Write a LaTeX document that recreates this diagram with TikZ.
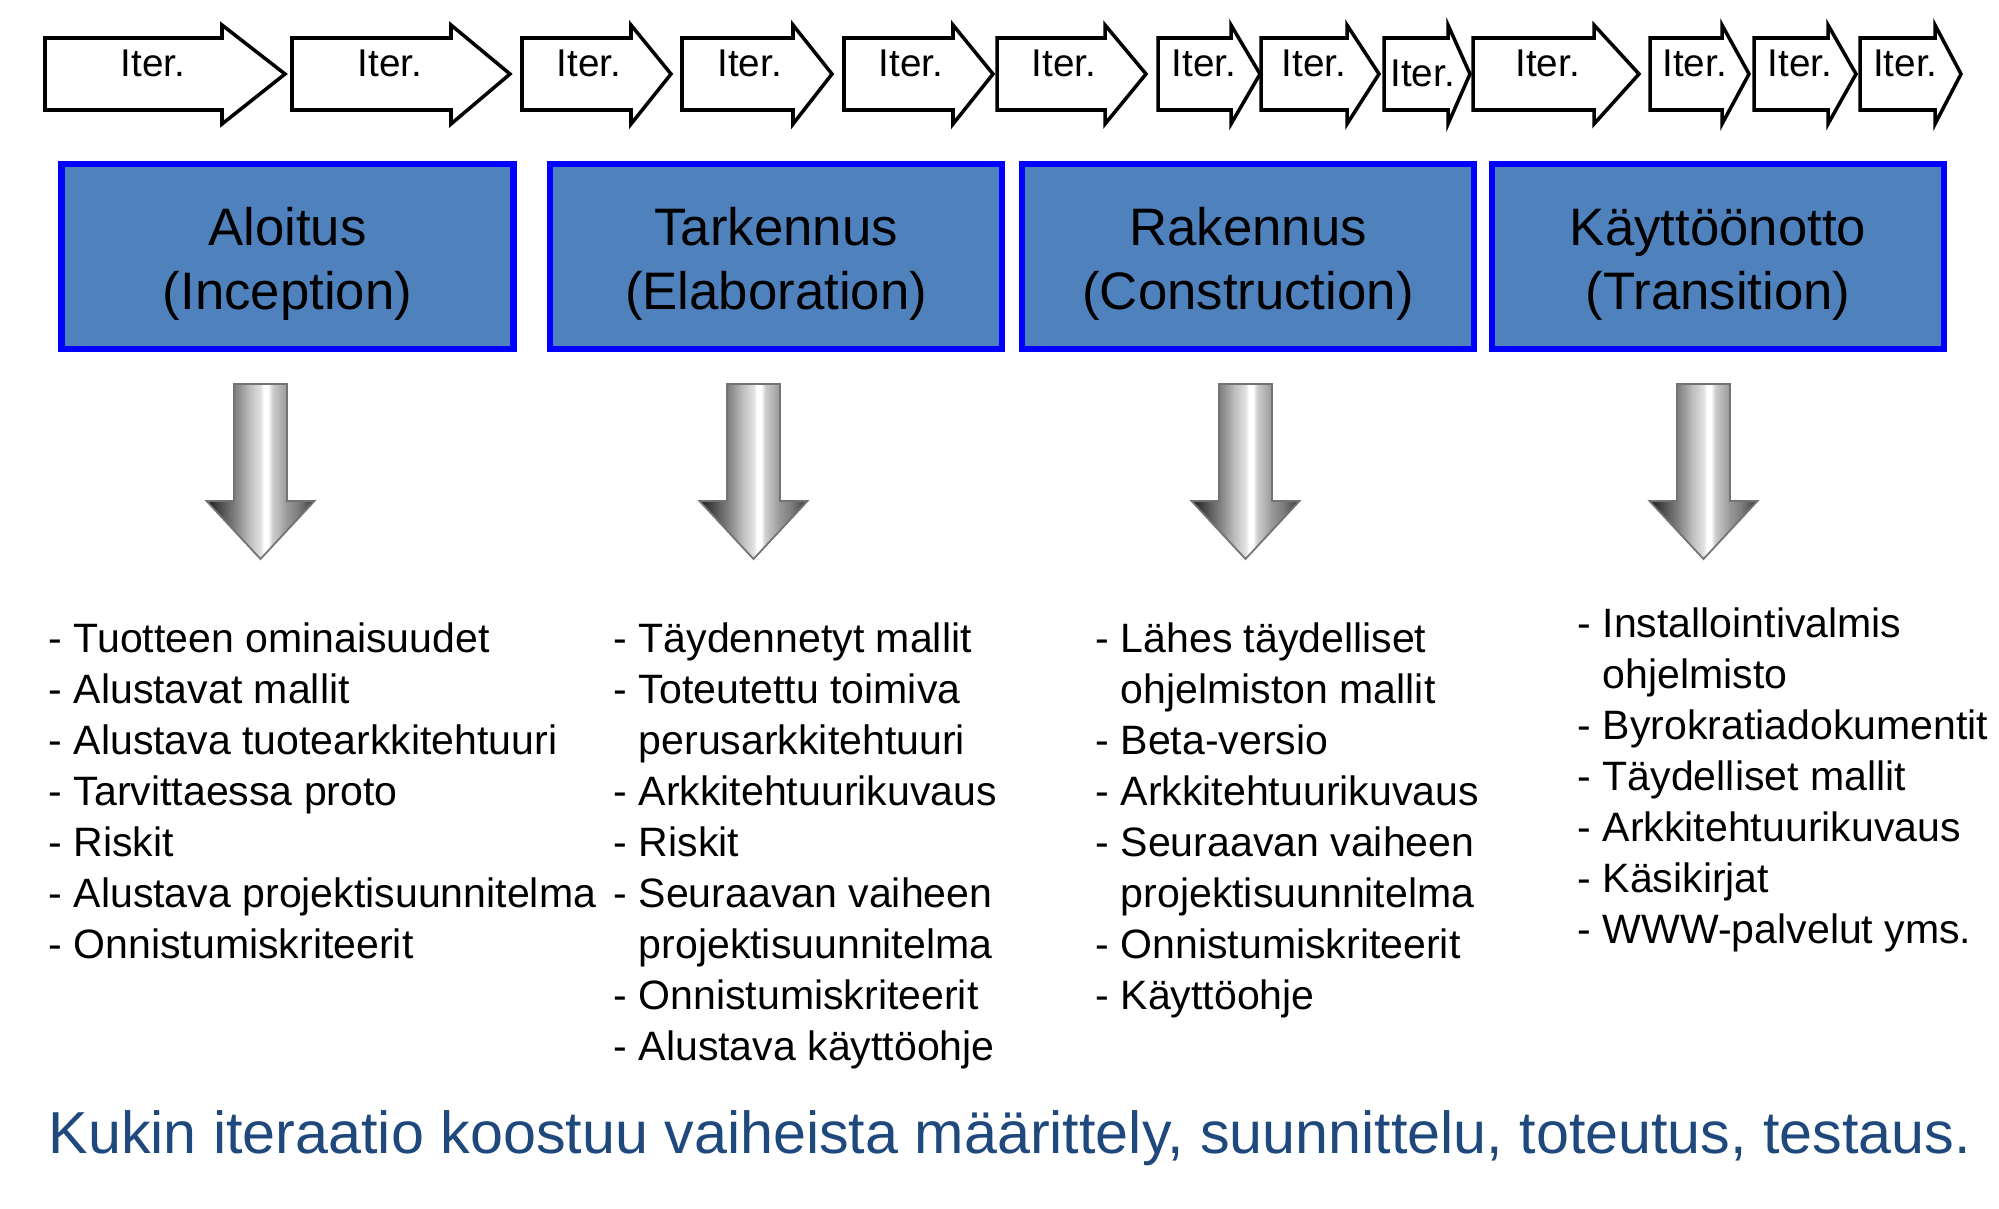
\documentclass[tikz,border=0pt]{standalone}
\usepackage{fontspec}
\setmainfont{Liberation Sans}
\usepackage{tikz}
\usetikzlibrary{arrows}

\definecolor{phasefill}{RGB}{79,129,189}
\definecolor{phaseline}{RGB}{0,0,255}
\definecolor{notecolor}{RGB}{31,73,125}

\pgfdeclarehorizontalshading{metal}{100bp}{color(0bp)=(black!90); color(25bp)=(black!90);
  color(28bp)=(black!80); color(33bp)=(black!65); color(38bp)=(black!50); color(41bp)=(black!40);
  color(45bp)=(black!25); color(50bp)=(black!12); color(51.5bp)=(white); color(53.5bp)=(white);
  color(55.5bp)=(black!20); color(59bp)=(black!30); color(62bp)=(black!40); color(67bp)=(black!50);
  color(71.5bp)=(black!65); color(75bp)=(black!75); color(100bp)=(black!75)}

% iteration arrow: name, left, head, tip, baseline
\newcommand{\iterarrow}[5]{%
\draw[iterline] (#2,38) -- (#3,38) -- (#3,25) -- (#4,74) -- (#3,124) -- (#3,110) -- (#2,110) -- cycle;
\node[itertext] (#1) at ({#2+0.45*(#4-#2)},#5) {Iter.};}

% grey arrow under a phase
\newcommand{\metalarrow}[1]{%
\shadedraw[metalline] (#1-26.5,384) -- (#1+26.5,384) -- (#1+26.5,501) -- (#1+54,501) -- (#1,559)
  -- (#1-54,501) -- (#1-26.5,501) -- cycle;}

% pushes the phase names a little down
\newcommand{\phasestrut}{\rule{0pt}{0.52cm}}

\begin{document}
\begin{tikzpicture}[x=0.01cm, y=-0.01cm,
  iterline/.style={draw=black, fill=white, line width=1pt},
  itertext/.style={anchor=base, inner sep=0pt, font=\fontsize{11}{12}\selectfont},
  phase/.style={draw=phaseline, fill=phasefill, line width=1.85pt, minimum width=4.515cm,
    minimum height=1.845cm, align=center, font=\fontsize{15}{18.2}\selectfont},
  metalline/.style={shading=metal, draw=black!55, line width=0.5pt},
  listtext/.style={anchor=north west, align=left, inner sep=0pt, font=\fontsize{11.67}{14.51}\selectfont},
  notetext/.style={anchor=base west, inner sep=0pt, text=notecolor, font=\fontsize{16.85}{20}\selectfont}]
\useasboundingbox (0,0) rectangle (1999,1209);

% iterations
\iterarrow{it1}{45}{222}{285}{76}
\iterarrow{it2}{292}{451}{510}{76}
\iterarrow{it3}{522}{631}{671}{76}
\iterarrow{it4}{682}{793}{832}{76}
\iterarrow{it5}{844}{953}{993}{76}
\iterarrow{it6}{997}{1105}{1146}{76}
\iterarrow{it7}{1158}{1231}{1260}{76}
\iterarrow{it8}{1261}{1347}{1379}{76}
\iterarrow{it9}{1384}{1448}{1470}{87}
\iterarrow{it10}{1473}{1594}{1639}{76}
\iterarrow{it11}{1650}{1722}{1749}{76}
\iterarrow{it12}{1754}{1828}{1856}{76}
\iterarrow{it13}{1860}{1935}{1961}{76}

% phases
\node[phase] (inception) at (287.5,256.5) {\phasestrut Aloitus\\(Inception)};
\node[phase] (elaboration) at (776,256.5) {\phasestrut Tarkennus\\(Elaboration)};
\node[phase] (construction) at (1248,256.5) {\phasestrut Rakennus\\(Construction)};
\node[phase] (transition) at (1718,256.5) {\phasestrut Käyttöönotto\\(Transition)};

\metalarrow{260.5}
\metalarrow{753.5}
\metalarrow{1245.5}
\metalarrow{1703.5}

% results of each phase
\node[listtext] (inceptionList) at (48,622) {- Tuotteen ominaisuudet\\- Alustavat mallit\\
  - Alustava tuotearkkitehtuuri\\- Tarvittaessa proto\\- Riskit\\
  - Alustava projektisuunnitelma\\- Onnistumiskriteerit};
\node[listtext] (elaborationList) at (613,622) {- Täydennetyt mallit\\- Toteutettu toimiva\\
  \phantom{- }perusarkkitehtuuri\\- Arkkitehtuurikuvaus\\- Riskit\\- Seuraavan vaiheen\\
  \phantom{- }projektisuunnitelma\\- Onnistumiskriteerit\\- Alustava käyttöohje};
\node[listtext] (constructionList) at (1095,622) {- Lähes täydelliset\\
  \phantom{- }ohjelmiston mallit\\- Beta-versio\\- Arkkitehtuurikuvaus\\- Seuraavan vaiheen\\
  \phantom{- }projektisuunnitelma\\- Onnistumiskriteerit\\- Käyttöohje};
\node[listtext] (transitionList) at (1577,607) {- Installointivalmis\\\phantom{- }ohjelmisto\\
  - Byrokratiadokumentit\\- Täydelliset mallit\\- Arkkitehtuurikuvaus\\- Käsikirjat\\
  - WWW-palvelut yms.};

\node[notetext] (note) at (48,1153) {Kukin iteraatio koostuu vaiheista määrittely, suunnittelu, toteutus, testaus.};
\end{tikzpicture}
\end{document}
